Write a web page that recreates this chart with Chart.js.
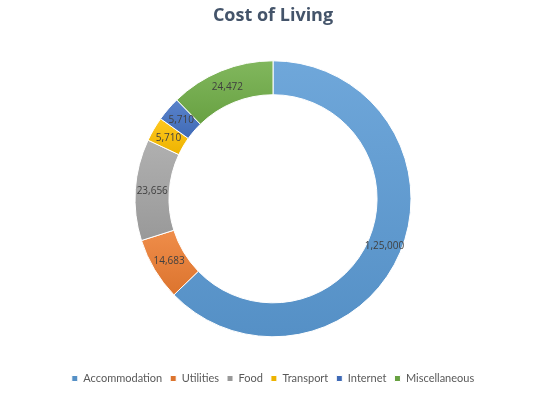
<!DOCTYPE html>
<html>
<head>
<meta charset="utf-8">
<script src="https://cdn.jsdelivr.net/npm/chart.js@4"></script>
<style>
  html, body { margin: 0; padding: 0; background: #fff; }
  #wrap { width: 539px; height: 411px; }
</style>
</head>
<body>
<div id="wrap"><canvas id="costChart" width="539" height="411"></canvas></div>
<script>
const categories = ['Accommodation', 'Utilities', 'Food', 'Transport', 'Internet', 'Miscellaneous'];
const costs = [125000, 14683, 23656, 5710, 5710, 24472];
const sliceColors = ['#5B9BD5', '#ED7D31', '#A5A5A5', '#FFC000', '#4472C4', '#70AD47'];

const OUTER = 138;
const INNER = 104;

// Indian digit grouping, as in the source sheet (1,25,000)
function fmtIN(n) {
  const s = String(Math.round(n));
  if (s.length <= 3) return s;
  const last3 = s.slice(-3);
  const rest = s.slice(0, -3).replace(/\B(?=(\d{2})+(?!\d))/g, ',');
  return rest + ',' + last3;
}

function shade(hex, amt) {
  const n = parseInt(hex.slice(1), 16);
  let r = (n >> 16) & 255, g = (n >> 8) & 255, b = n & 255;
  const f = (c) => Math.max(0, Math.min(255, Math.round(amt > 0 ? c + (255 - c) * amt : c * (1 + amt))));
  return 'rgb(' + f(r) + ',' + f(g) + ',' + f(b) + ')';
}

// per-slice vertical gradient, light on top, darker below (Excel style)
function sliceFill(ctx) {
  const chart = ctx.chart;
  const area = chart.chartArea;
  const i = ctx.dataIndex;
  const base = sliceColors[i];
  if (!area || i === undefined) return base;
  const cy = (area.top + area.bottom) / 2;
  const total = costs.reduce((a, b) => a + b, 0);
  let acc = 0;
  for (let k = 0; k < i; k++) acc += costs[k];
  const a0 = acc / total * Math.PI * 2;
  const a1 = (acc + costs[i]) / total * Math.PI * 2;
  let minY = Infinity, maxY = -Infinity;
  for (let s = 0; s <= 40; s++) {
    const a = a0 + (a1 - a0) * s / 40;
    [OUTER, INNER].forEach((r) => {
      const y = cy - r * Math.cos(a);
      if (y < minY) minY = y;
      if (y > maxY) maxY = y;
    });
  }
  const g = chart.ctx.createLinearGradient(0, minY, 0, maxY);
  g.addColorStop(0, shade(base, 0.12));
  g.addColorStop(1, shade(base, -0.07));
  return g;
}

const sliceLabels = {
  id: 'sliceLabels',
  afterDatasetsDraw(chart) {
    const c = chart.ctx;
    const meta = chart.getDatasetMeta(0);
    c.save();
    c.font = '10px "Open Sans", sans-serif';
    c.fillStyle = '#404040';
    c.textAlign = 'center';
    c.textBaseline = 'middle';
    meta.data.forEach((arc, i) => {
      const p = arc.tooltipPosition();
      c.fillText(fmtIN(costs[i]), p.x, p.y);
    });
    c.restore();
  }
};

new Chart(document.getElementById('costChart').getContext('2d'), {
  type: 'doughnut',
  data: {
    labels: categories,
    datasets: [{
      data: costs,
      backgroundColor: sliceFill,
      borderColor: '#ffffff',
      borderWidth: 1
    }]
  },
  options: {
    responsive: false,
    animation: false,
    radius: OUTER,
    cutout: (INNER / OUTER * 100).toFixed(1) + '%',
    layout: { padding: { left: 7, right: 0, top: 0, bottom: 17 } },
    plugins: {
      title: {
        display: true,
        text: 'Cost of Living',
        color: '#44546A',
        font: { family: '"Open Sans", sans-serif', size: 18, weight: 'bold' },
        padding: { top: 5, bottom: 6 }
      },
      legend: {
        position: 'bottom',
        labels: {
          boxWidth: 6,
          boxHeight: 6,
          padding: 8,
          color: '#595959',
          font: { family: 'Lato, sans-serif', size: 11 }
        }
      },
      tooltip: { enabled: false }
    }
  },
  plugins: [sliceLabels]
});
</script>
</body>
</html>
